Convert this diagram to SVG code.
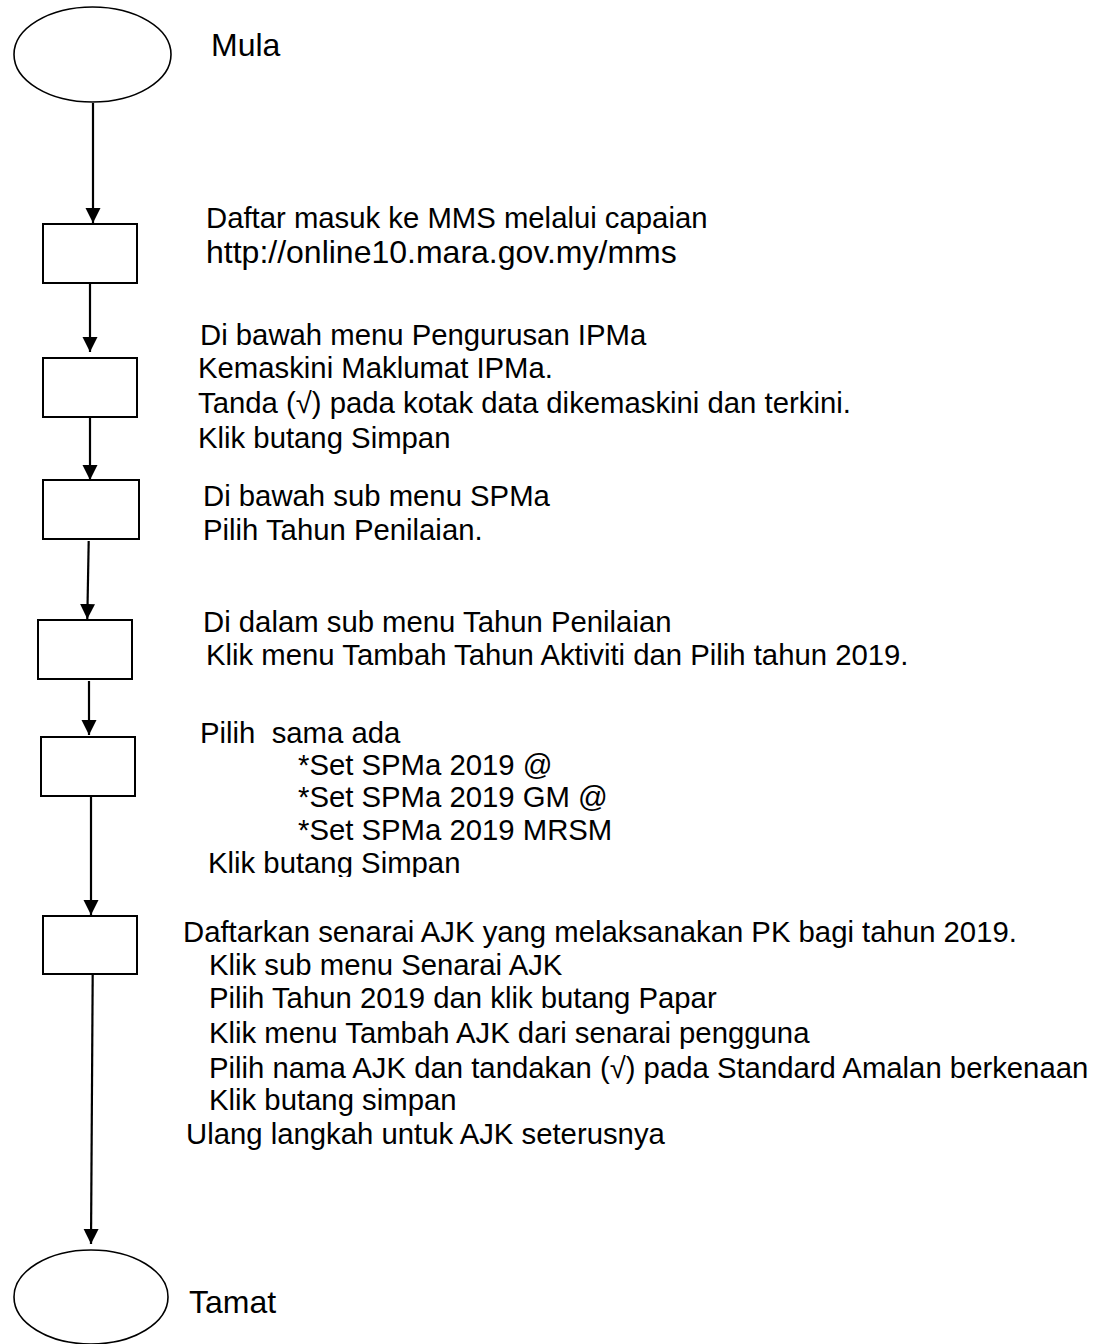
<svg xmlns="http://www.w3.org/2000/svg" width="1105" height="1344" viewBox="0 0 1105 1344">
<style>
  text { font-family: "Liberation Sans", Arial, sans-serif; fill: #000; }
  .t { font-size: 29.3px; }
  .big { font-size: 32px; }
  .node { fill: #fff; stroke: #000; stroke-width: 2; }
  .term { fill: #fff; stroke: #000; stroke-width: 1.6; }
  .conn { stroke: #000; stroke-width: 2.2; fill: none; marker-end: url(#arrow); }
</style>
<defs>
  <marker id="arrow" markerUnits="userSpaceOnUse" markerWidth="16" markerHeight="16" refX="15" refY="7.5" orient="auto">
    <path d="M0,0 L15,7.5 L0,15 z" fill="#000"/>
  </marker>
  <clipPath id="clip5"><rect x="150" y="700" width="600" height="177"/></clipPath>
</defs>
<rect width="1105" height="1344" fill="#fff"/>

<g id="connectors">
  <line class="conn" x1="93" y1="103" x2="93" y2="223"/>
  <line class="conn" x1="90" y1="283" x2="90" y2="352"/>
  <line class="conn" x1="90" y1="417" x2="90" y2="480"/>
  <line class="conn" x1="88.7" y1="541" x2="87.3" y2="619"/>
  <line class="conn" x1="89" y1="681" x2="89" y2="735"/>
  <line class="conn" x1="91" y1="796" x2="91" y2="915"/>
  <line class="conn" x1="92.7" y1="974" x2="91" y2="1244"/>
</g>

<g id="start">
  <ellipse class="term" cx="92.5" cy="54.5" rx="78.5" ry="47.5"/>
  <text class="big" x="211" y="56">Mula</text>
</g>

<g id="step1">
  <rect class="node" x="43" y="224" width="94" height="59"/>
  <text class="t" x="206" y="228">Daftar masuk ke MMS melalui capaian</text>
  <text class="big" x="206" y="263">http://online10.mara.gov.my/mms</text>
</g>

<g id="step2">
  <rect class="node" x="43" y="358" width="94" height="59"/>
  <text class="t" x="200" y="345">Di bawah menu Pengurusan IPMa</text>
  <text class="t" x="198" y="378">Kemaskini Maklumat IPMa.</text>
  <text class="t" x="198" y="413">Tanda (√) pada kotak data dikemaskini dan terkini.</text>
  <text class="t" x="198" y="448">Klik butang Simpan</text>
</g>

<g id="step3">
  <rect class="node" x="43" y="480" width="96" height="59"/>
  <text class="t" x="203" y="506">Di bawah sub menu SPMa</text>
  <text class="t" x="203" y="540">Pilih Tahun Penilaian.</text>
</g>

<g id="step4">
  <rect class="node" x="38" y="620" width="94" height="59"/>
  <text class="t" x="203" y="632">Di dalam sub menu Tahun Penilaian</text>
  <text class="t" x="206" y="665">Klik menu Tambah Tahun Aktiviti dan Pilih tahun 2019.</text>
</g>

<g id="step5">
  <rect class="node" x="41" y="737" width="94" height="59"/>
  <text class="t" x="200" y="743" xml:space="preserve">Pilih  sama ada</text>
  <text class="t" x="298" y="775">*Set SPMa 2019 @</text>
  <text class="t" x="298" y="807">*Set SPMa 2019 GM @</text>
  <text class="t" x="298" y="840">*Set SPMa 2019 MRSM</text>
  <text class="t" x="208" y="873" clip-path="url(#clip5)">Klik butang Simpan</text>
</g>

<g id="step6">
  <rect class="node" x="43" y="916" width="94" height="58"/>
  <text class="t" x="183" y="942">Daftarkan senarai AJK yang melaksanakan PK bagi tahun 2019.</text>
  <text class="t" x="209" y="975">Klik sub menu Senarai AJK</text>
  <text class="t" x="209" y="1008">Pilih Tahun 2019 dan klik butang Papar</text>
  <text class="t" x="209" y="1043">Klik menu Tambah AJK dari senarai pengguna</text>
  <text class="t" x="209" y="1078">Pilih nama AJK dan tandakan (√) pada Standard Amalan berkenaan</text>
  <text class="t" x="209" y="1110">Klik butang simpan</text>
  <text class="t" x="186" y="1144">Ulang langkah untuk AJK seterusnya</text>
</g>

<g id="end">
  <ellipse class="term" cx="91" cy="1297" rx="77" ry="47"/>
  <text class="big" x="189" y="1313">Tamat</text>
</g>
</svg>
